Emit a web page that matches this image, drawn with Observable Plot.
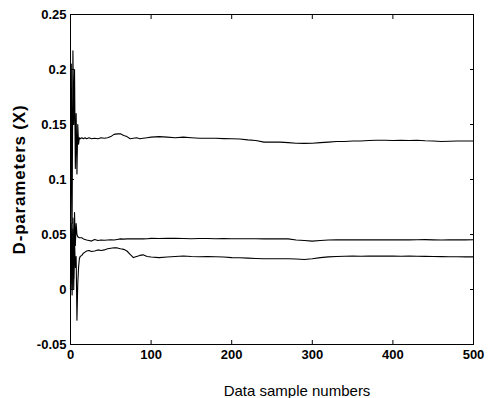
<!DOCTYPE html>
<html>
<head>
<meta charset="utf-8">
<script src="https://cdn.jsdelivr.net/npm/d3@7"></script>
<script src="https://cdn.jsdelivr.net/npm/@observablehq/plot@0.6"></script>
<style>
  html, body { margin: 0; padding: 0; background: #fff; }
  #chart svg { font-family: "Liberation Sans", Arial, sans-serif; }
</style>
</head>
<body>
<div id="chart"></div>
<script>
// Sample numbers (x) shared by the three D-parameter series
const samples = [0,1,2,3,4,5,6,7,8,9,10,11,12,14,16,18,20,23,26,30,34,38,42,46,50,54,58,62,66,70,74,78,82,86,90,95,100,
  110,120,130,140,150,160,170,180,190,200,210,220,230,240,250,260,270,280,290,300,310,320,330,340,350,360,370,380,390,400,
  410,420,430,440,450,460,470,480,490,500];

const seriesTop = [0.000,0.205,0.060,0.217,0.150,0.200,0.110,0.160,0.105,0.150,0.132,0.138,0.137,0.138,0.137,0.138,0.137,0.138,0.137,0.1375,0.137,0.138,0.1375,0.138,0.139,0.141,0.1415,0.1415,0.140,0.139,0.137,0.1375,0.138,0.137,0.1375,0.138,0.1385,
  0.139,0.1385,0.138,0.1385,0.138,0.1375,0.1375,0.1375,0.1372,0.137,0.1368,0.136,0.1355,0.134,0.134,0.134,0.1335,0.133,0.1328,0.133,0.1335,0.134,0.1345,0.1345,0.135,0.135,0.1355,0.1357,0.1357,0.1355,
  0.1357,0.1355,0.1357,0.1352,0.135,0.1345,0.1348,0.135,0.135,0.135];

const seriesMid = [0.000,0.060,0.000,0.065,0.010,0.070,0.040,0.060,0.050,0.048,0.0475,0.047,0.047,0.047,0.046,0.0455,0.045,0.0445,0.044,0.0455,0.0445,0.045,0.0448,0.045,0.0452,0.045,0.0455,0.046,0.0458,0.046,0.046,0.0462,0.046,0.0462,0.046,0.0462,0.0465,
  0.0463,0.0465,0.0465,0.0463,0.0462,0.0464,0.0463,0.0462,0.0463,0.0462,0.0461,0.0462,0.0461,0.046,0.0461,0.046,0.046,0.045,0.0445,0.044,0.0445,0.045,0.0452,0.0451,0.0451,0.0452,0.0451,0.0452,0.0451,0.0451,
  0.0452,0.0451,0.0452,0.0453,0.0451,0.045,0.0451,0.0451,0.0451,0.0452];

const seriesLow = [0.000,0.040,-0.005,0.055,0.000,0.045,0.020,0.030,-0.028,0.005,0.020,0.028,0.030,0.031,0.033,0.034,0.035,0.0355,0.0345,0.035,0.036,0.0355,0.036,0.037,0.0375,0.038,0.0378,0.037,0.0365,0.035,0.032,0.029,0.030,0.031,0.0315,0.030,0.0295,
  0.029,0.0295,0.030,0.0305,0.030,0.0298,0.030,0.0298,0.0295,0.029,0.0288,0.0285,0.0282,0.028,0.028,0.0279,0.0279,0.0277,0.0273,0.028,0.029,0.0297,0.030,0.0302,0.0303,0.0302,0.0303,0.0304,0.0303,0.0303,
  0.0302,0.0303,0.0302,0.0301,0.0300,0.0299,0.0298,0.0298,0.0297,0.0297];

const xTicks = [0, 100, 200, 300, 400, 500];
const yTicks = [-0.05, 0, 0.05, 0.1, 0.15, 0.2, 0.25];
const yTickLabels = ["-0.05", "0", "0.05", "0.1", "0.15", "0.2", "0.25"];
const xLabel = "Data sample numbers";
const yLabel = "D-parameters (X)";

const rows = [];
[["top", seriesTop], ["mid", seriesMid], ["low", seriesLow]].forEach(([name, vals]) => {
  samples.forEach((s, i) => rows.push({series: name, x: s, y: vals[i]}));
});

const yFmt = d => yTickLabels[yTicks.indexOf(d)];

const chart = Plot.plot({
  width: 491,
  height: 398,
  marginLeft: 70,
  marginRight: 18,
  marginTop: 14,
  marginBottom: 54,
  style: {fontFamily: "'Liberation Sans', Arial, sans-serif", fontSize: "13px", color: "#000", background: "#fff"},
  x: {domain: [0, 500], ticks: xTicks},
  y: {domain: [-0.05, 0.25], ticks: yTicks},
  marks: [
    Plot.line(rows, {x: "x", y: "y", z: "series", stroke: "#000", strokeWidth: 1.1}),
    Plot.frame({stroke: "#000", strokeWidth: 1}),
    Plot.axisX(xTicks, {anchor: "bottom", tickSize: 0, tickPadding: 5, label: null, fontSize: 13, fontWeight: "bold"}),
    Plot.axisX(xTicks, {anchor: "bottom", tickSize: -4, text: null, label: null}),
    Plot.axisX(xTicks, {anchor: "top", tickSize: -4, text: null, label: null}),
    Plot.axisY(yTicks, {anchor: "left", tickSize: 0, tickPadding: 4, tickFormat: yFmt, label: null, fontSize: 13, fontWeight: "bold"}),
    Plot.axisY(yTicks, {anchor: "left", tickSize: -4, text: null, label: null}),
    Plot.axisY(yTicks, {anchor: "right", tickSize: -4, text: null, label: null}),
    Plot.text([xLabel], {frameAnchor: "bottom", textAnchor: "middle", lineAnchor: "bottom", dy: 51, dx: 25, fontSize: 15, fill: "#000", className: "xlab"}),
    Plot.text([yLabel], {frameAnchor: "left", textAnchor: "middle", lineAnchor: "middle", rotate: -90, dx: -51, fontSize: 17, fontWeight: "bold", fill: "#000", className: "ylab"})
  ]
});
d3.select(chart).selectAll(".ylab text").style("letter-spacing", "0.8px");
document.getElementById("chart").appendChild(chart);
</script>
</body>
</html>
